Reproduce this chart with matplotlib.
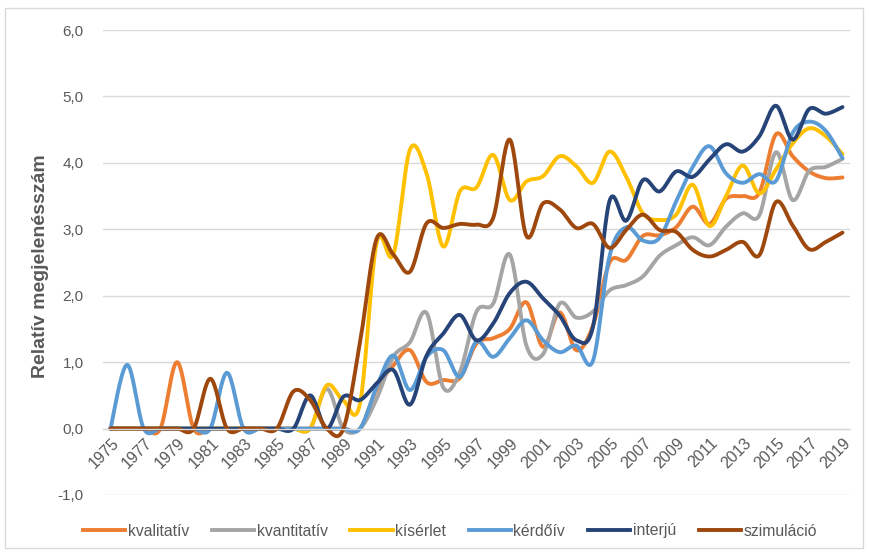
import numpy as np
import matplotlib
matplotlib.use('Agg')
import matplotlib.pyplot as plt
from matplotlib.lines import Line2D
from matplotlib.patches import Rectangle
from matplotlib.transforms import ScaledTranslation

plt.rcParams['font.family'] = ['Liberation Sans', 'DejaVu Sans']

years = list(range(1975, 2020))

kvalitativ = [0, 0, 0, 0, 1.0, 0, 0, 0, 0, 0, 0, 0, 0, 0, 0, 0,
              0.6, 0.95, 1.18, 0.7, 0.73, 0.76, 1.28, 1.36, 1.5, 1.9,
              1.23, 1.75, 1.18, 1.55, 2.5, 2.54, 2.9, 2.91, 3.03, 3.34,
              3.08, 3.46, 3.5, 3.55, 4.43, 4.1, 3.87, 3.77, 3.78]

kvantitativ = [0, 0, 0, 0, 0, 0, 0, 0, 0, 0, 0, 0, 0, 0.6, 0, 0,
               0.45, 1.08, 1.3, 1.74, 0.62, 0.85, 1.76, 1.88, 2.62, 1.25,
               1.12, 1.88, 1.67, 1.76, 2.08, 2.16, 2.29, 2.6, 2.76, 2.88,
               2.76, 3.04, 3.24, 3.21, 4.16, 3.44, 3.88, 3.94, 4.06]

kiserlet = [0, 0, 0, 0, 0, 0, 0, 0, 0, 0, 0, 0, 0, 0.65, 0.42, 0.38,
            2.8, 2.62, 4.2, 3.84, 2.74, 3.57, 3.63, 4.12, 3.44, 3.72,
            3.8, 4.1, 3.95, 3.7, 4.17, 3.79, 3.24, 3.14, 3.22, 3.67,
            3.05, 3.5, 3.96, 3.54, 3.9, 4.29, 4.52, 4.4, 4.13]

kerdoiv = [0, 0.96, 0, 0, 0, 0, 0, 0.84, 0, 0, 0, 0, 0, 0, 0, 0,
           0.63, 1.1, 0.58, 1.08, 1.18, 0.78, 1.31, 1.08, 1.36, 1.63,
           1.33, 1.15, 1.25, 1.02, 2.6, 3.03, 2.83, 2.87, 3.42, 3.94,
           4.25, 3.84, 3.7, 3.83, 3.73, 4.45, 4.62, 4.48, 4.07]

interju = [0, 0, 0, 0, 0, 0, 0, 0, 0, 0, 0, 0, 0.5, 0, 0.48, 0.43,
           0.68, 0.88, 0.36, 1.1, 1.43, 1.71, 1.33, 1.58, 2.04, 2.21,
           1.96, 1.7, 1.33, 1.53, 3.43, 3.13, 3.74, 3.57, 3.87, 3.79,
           4.05, 4.28, 4.17, 4.4, 4.86, 4.35, 4.81, 4.74, 4.84]

szimulacio = [0, 0, 0, 0, 0, 0, 0.75, 0, 0, 0, 0, 0.56, 0.43, 0, 0, 1.3,
              2.86, 2.62, 2.36, 3.09, 3.02, 3.08, 3.07, 3.17, 4.35, 2.9,
              3.39, 3.3, 3.02, 3.08, 2.72, 2.99, 3.22, 2.99, 2.96, 2.69,
              2.59, 2.69, 2.81, 2.61, 3.41, 3.06, 2.7, 2.81, 2.95]

series_names = ['kvalitatív', 'kvantitatív', 'kísérlet', 'kérdőív', 'interjú', 'szimuláció']
series_data = [kvalitativ, kvantitativ, kiserlet, kerdoiv, interju, szimulacio]
colors = ['#ED7D31', '#A5A5A5', '#FFC000', '#5B9BD5', '#264478', '#9E480E']

y_ticks = [-1, 0, 1, 2, 3, 4, 5, 6]
x_tick_years = years[::2]


def smooth(xs, ys, n=20):
    xs = np.asarray(xs, float)
    ys = np.asarray(ys, float)
    P = np.column_stack([xs, ys])
    out = []
    m = len(P)
    t = np.linspace(0, 1, n, endpoint=False)[:, None]
    for i in range(m - 1):
        p0 = P[i - 1] if i > 0 else P[i]
        p1 = P[i]
        p2 = P[i + 1]
        p3 = P[i + 2] if i + 2 < m else P[i + 1]
        c1 = p1 + (p2 - p0) / 6.0
        c2 = p2 - (p3 - p1) / 6.0
        seg = ((1 - t) ** 3) * p1 + 3 * ((1 - t) ** 2) * t * c1 + 3 * (1 - t) * t ** 2 * c2 + t ** 3 * p2
        out.append(seg)
    out.append(P[-1][None, :])
    out = np.vstack(out)
    return out[:, 0], out[:, 1]


fig = plt.figure(figsize=(8.69, 5.54), dpi=100)
W, H = 869, 554
ax = fig.add_axes([103 / W, 1 - 495 / H, (850 - 103) / W, (495 - 30) / H])

for name, data, c in zip(series_names, series_data, colors):
    sx, sy = smooth(years, data)
    ax.plot(sx, sy, color=c, lw=2.8, solid_capstyle='round', solid_joinstyle='round', label=name)

ax.set_xlim(1975 - 0.45, 2019 + 0.45)
ax.set_ylim(-1, 6)
ax.set_yticks(y_ticks)
ax.set_yticklabels([f"{v:.1f}".replace('.', ',') for v in y_ticks])
ax.yaxis.grid(True, color='#D9D9D9', lw=1)
ax.set_axisbelow(True)
for s in ['left', 'right', 'top']:
    ax.spines[s].set_visible(False)
ax.spines['bottom'].set_position(('data', 0))
ax.spines['bottom'].set_color('#D9D9D9')
ax.spines['bottom'].set_linewidth(1)
ax.set_xticks(x_tick_years)
ax.set_xticklabels([str(y) for y in x_tick_years])
ax.tick_params(axis='x', length=0, pad=9, labelcolor='#595959', labelsize=11.5)
ax.tick_params(axis='y', length=0, pad=14, labelcolor='#595959', labelsize=11)
shift = ScaledTranslation(6 / 100, 0, fig.dpi_scale_trans)
for lbl in ax.get_xticklabels():
    lbl.set_rotation(45)
    lbl.set_ha('right')
    lbl.set_va('center')
    lbl.set_rotation_mode('anchor')
    lbl.set_transform(lbl.get_transform() + shift)

fig.text(41 / W, 1 - 266 / H, 'Relatív megjelenésszám', rotation=90, ha='center', va='center',
         fontsize=14, fontweight='bold', color='#595959')

handles = [Line2D([0], [0], color=c, lw=2.8) for c in colors]
fig.legend(handles, series_names, loc='center', bbox_to_anchor=(450 / W, 1 - 531 / H), ncol=6,
           frameon=False, handlelength=2.7, handletextpad=0.15, columnspacing=1.45,
           fontsize=11.3, labelcolor='#595959')

fig.patches.append(Rectangle((5 / W, 1 - 548 / H), (863 - 5) / W, (548 - 8) / H,
                             transform=fig.transFigure, fill=False, edgecolor='#D9D9D9', lw=1))

fig.savefig('out.png', dpi=100)
